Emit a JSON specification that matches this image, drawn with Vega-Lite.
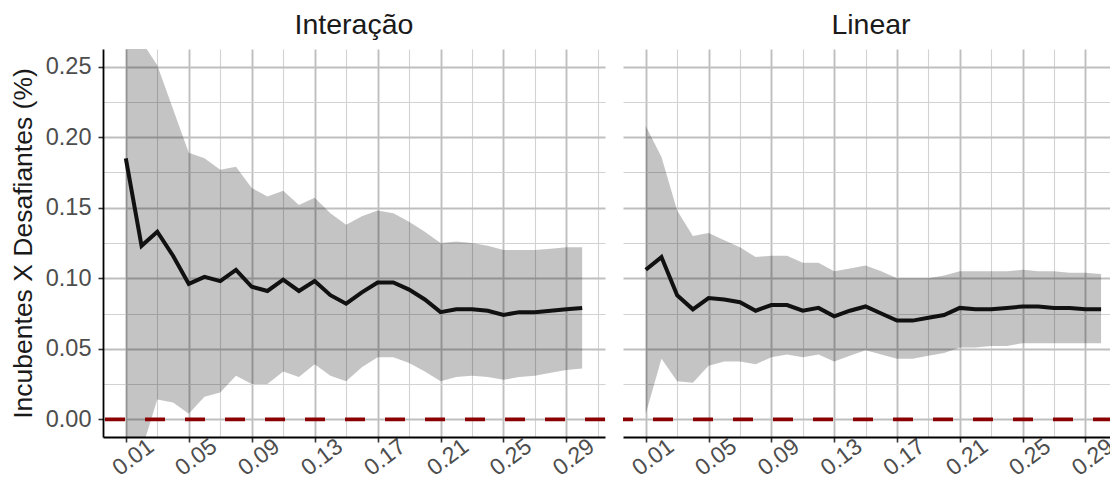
{
  "$schema": "https://vega.github.io/schema/vega-lite/v6.json",
  "background": "white",
  "padding": {"left": 10, "top": 10, "right": 0, "bottom": 0},
  "spacing": 14,
  "config": {
    "font": "Liberation Sans",
    "view": {"stroke": null},
    "title": {"fontSize": 28.5, "fontWeight": "normal", "color": "#1a1a1a", "offset": 10, "anchor": "middle", "frame": "group"}
  },
  "datasets": {
    "est": [
      {"modelo": "Interação", "x": 0.01, "est": 0.185, "lo": -0.06, "hi": 0.33},
      {"modelo": "Interação", "x": 0.02, "est": 0.123, "lo": -0.022, "hi": 0.268},
      {"modelo": "Interação", "x": 0.03, "est": 0.133, "lo": 0.014, "hi": 0.251},
      {"modelo": "Interação", "x": 0.04, "est": 0.116, "lo": 0.012, "hi": 0.22},
      {"modelo": "Interação", "x": 0.05, "est": 0.096, "lo": 0.004, "hi": 0.189},
      {"modelo": "Interação", "x": 0.06, "est": 0.101, "lo": 0.016, "hi": 0.185},
      {"modelo": "Interação", "x": 0.07, "est": 0.098, "lo": 0.019, "hi": 0.177},
      {"modelo": "Interação", "x": 0.08, "est": 0.106, "lo": 0.031, "hi": 0.179},
      {"modelo": "Interação", "x": 0.09, "est": 0.094, "lo": 0.025, "hi": 0.164},
      {"modelo": "Interação", "x": 0.10, "est": 0.091, "lo": 0.025, "hi": 0.158},
      {"modelo": "Interação", "x": 0.11, "est": 0.099, "lo": 0.034, "hi": 0.162},
      {"modelo": "Interação", "x": 0.12, "est": 0.091, "lo": 0.030, "hi": 0.152},
      {"modelo": "Interação", "x": 0.13, "est": 0.098, "lo": 0.039, "hi": 0.157},
      {"modelo": "Interação", "x": 0.14, "est": 0.088, "lo": 0.031, "hi": 0.146},
      {"modelo": "Interação", "x": 0.15, "est": 0.082, "lo": 0.027, "hi": 0.138},
      {"modelo": "Interação", "x": 0.16, "est": 0.090, "lo": 0.037, "hi": 0.144},
      {"modelo": "Interação", "x": 0.17, "est": 0.097, "lo": 0.044, "hi": 0.148},
      {"modelo": "Interação", "x": 0.18, "est": 0.097, "lo": 0.044, "hi": 0.146},
      {"modelo": "Interação", "x": 0.19, "est": 0.092, "lo": 0.040, "hi": 0.140},
      {"modelo": "Interação", "x": 0.20, "est": 0.085, "lo": 0.034, "hi": 0.133},
      {"modelo": "Interação", "x": 0.21, "est": 0.076, "lo": 0.027, "hi": 0.125},
      {"modelo": "Interação", "x": 0.22, "est": 0.078, "lo": 0.030, "hi": 0.126},
      {"modelo": "Interação", "x": 0.23, "est": 0.078, "lo": 0.031, "hi": 0.125},
      {"modelo": "Interação", "x": 0.24, "est": 0.077, "lo": 0.030, "hi": 0.123},
      {"modelo": "Interação", "x": 0.25, "est": 0.074, "lo": 0.028, "hi": 0.120},
      {"modelo": "Interação", "x": 0.26, "est": 0.076, "lo": 0.030, "hi": 0.120},
      {"modelo": "Interação", "x": 0.27, "est": 0.076, "lo": 0.031, "hi": 0.120},
      {"modelo": "Interação", "x": 0.28, "est": 0.077, "lo": 0.033, "hi": 0.121},
      {"modelo": "Interação", "x": 0.29, "est": 0.078, "lo": 0.035, "hi": 0.122},
      {"modelo": "Interação", "x": 0.30, "est": 0.079, "lo": 0.036, "hi": 0.122},
      {"modelo": "Linear", "x": 0.01, "est": 0.106, "lo": 0.004, "hi": 0.208},
      {"modelo": "Linear", "x": 0.02, "est": 0.115, "lo": 0.043, "hi": 0.186},
      {"modelo": "Linear", "x": 0.03, "est": 0.088, "lo": 0.027, "hi": 0.148},
      {"modelo": "Linear", "x": 0.04, "est": 0.078, "lo": 0.026, "hi": 0.130},
      {"modelo": "Linear", "x": 0.05, "est": 0.086, "lo": 0.038, "hi": 0.132},
      {"modelo": "Linear", "x": 0.06, "est": 0.085, "lo": 0.041, "hi": 0.127},
      {"modelo": "Linear", "x": 0.07, "est": 0.083, "lo": 0.041, "hi": 0.122},
      {"modelo": "Linear", "x": 0.08, "est": 0.077, "lo": 0.039, "hi": 0.115},
      {"modelo": "Linear", "x": 0.09, "est": 0.081, "lo": 0.044, "hi": 0.116},
      {"modelo": "Linear", "x": 0.10, "est": 0.081, "lo": 0.046, "hi": 0.116},
      {"modelo": "Linear", "x": 0.11, "est": 0.077, "lo": 0.044, "hi": 0.111},
      {"modelo": "Linear", "x": 0.12, "est": 0.079, "lo": 0.046, "hi": 0.111},
      {"modelo": "Linear", "x": 0.13, "est": 0.073, "lo": 0.041, "hi": 0.105},
      {"modelo": "Linear", "x": 0.14, "est": 0.077, "lo": 0.045, "hi": 0.107},
      {"modelo": "Linear", "x": 0.15, "est": 0.080, "lo": 0.049, "hi": 0.109},
      {"modelo": "Linear", "x": 0.16, "est": 0.075, "lo": 0.046, "hi": 0.105},
      {"modelo": "Linear", "x": 0.17, "est": 0.070, "lo": 0.043, "hi": 0.100},
      {"modelo": "Linear", "x": 0.18, "est": 0.070, "lo": 0.043, "hi": 0.100},
      {"modelo": "Linear", "x": 0.19, "est": 0.072, "lo": 0.045, "hi": 0.100},
      {"modelo": "Linear", "x": 0.20, "est": 0.074, "lo": 0.047, "hi": 0.102},
      {"modelo": "Linear", "x": 0.21, "est": 0.079, "lo": 0.051, "hi": 0.105},
      {"modelo": "Linear", "x": 0.22, "est": 0.078, "lo": 0.051, "hi": 0.105},
      {"modelo": "Linear", "x": 0.23, "est": 0.078, "lo": 0.052, "hi": 0.105},
      {"modelo": "Linear", "x": 0.24, "est": 0.079, "lo": 0.052, "hi": 0.105},
      {"modelo": "Linear", "x": 0.25, "est": 0.080, "lo": 0.054, "hi": 0.106},
      {"modelo": "Linear", "x": 0.26, "est": 0.080, "lo": 0.054, "hi": 0.105},
      {"modelo": "Linear", "x": 0.27, "est": 0.079, "lo": 0.054, "hi": 0.105},
      {"modelo": "Linear", "x": 0.28, "est": 0.079, "lo": 0.054, "hi": 0.104},
      {"modelo": "Linear", "x": 0.29, "est": 0.078, "lo": 0.054, "hi": 0.104},
      {"modelo": "Linear", "x": 0.30, "est": 0.078, "lo": 0.054, "hi": 0.103}
    ]
  },
  "hconcat": [
    {
      "width": 502,
      "height": 388,
      "title": {"text": "Interação"},
      "resolve": {"axis": {"x": "independent", "y": "independent"}},
      "layer": [
        {
          "data": {"name": "est"},
          "transform": [{"filter": "datum.modelo === 'Interação'"}],
          "mark": {"type": "area", "clip": true, "color": "#000000", "opacity": 0.23},
          "encoding": {
            "x": {
              "field": "x", "type": "quantitative",
              "scale": {"domain": [-0.0045, 0.3145], "nice": false, "zero": false},
              "axis": {"orient": "bottom", "title": null, "values": [0.01, 0.05, 0.09, 0.13, 0.17, 0.21, 0.25, 0.29], "format": ".2f",
                "grid": true, "gridColor": "#bfbfbf", "gridWidth": 1.9,
                "domainColor": "#000000", "domainWidth": 1.8, "tickColor": "#333333", "tickSize": 5, "tickWidth": 1.6,
                "labelAngle": -37, "labelAlign": "center", "labelBaseline": "middle", "labelPadding": 15, "labelOffset": 7,
                "labelFontSize": 23, "labelColor": "#4d4d4d", "labelOverlap": false, "labelBound": false, "labelFlush": false}
            },
            "y": {
              "field": "lo", "type": "quantitative",
              "scale": {"domain": [-0.0125, 0.2625], "nice": false, "zero": false},
              "axis": {"orient": "left", "title": "Incubentes X Desafiantes (%)", "titleFontSize": 26.5, "titleFontWeight": "normal", "titleColor": "#1a1a1a", "titlePadding": 8,
                "values": [0, 0.05, 0.1, 0.15, 0.2, 0.25], "format": ".2f",
                "grid": true, "gridColor": "#bfbfbf", "gridWidth": 1.9,
                "domainColor": "#000000", "domainWidth": 1.8, "tickColor": "#333333", "tickSize": 5, "tickWidth": 1.6,
                "labelPadding": 7, "labelFontSize": 23.5, "labelColor": "#4d4d4d", "labelOverlap": false, "labelFlush": false}
            },
            "y2": {"field": "hi"}
          }
        },
        {
          "data": {"name": "est"},
          "transform": [{"filter": "datum.modelo === 'Interação'"}],
          "mark": {"type": "line", "clip": true, "color": "#111111", "strokeWidth": 4},
          "encoding": {
            "x": {"field": "x", "type": "quantitative",
              "axis": {"orient": "top", "title": null, "values": [0.03, 0.07, 0.11, 0.15, 0.19, 0.23, 0.27, 0.31],
                "grid": true, "gridColor": "#d2d2d2", "gridWidth": 1.1, "labels": false, "ticks": false, "domain": false}},
            "y": {"field": "est", "type": "quantitative",
              "axis": {"orient": "right", "title": null, "values": [0.025, 0.075, 0.125, 0.175, 0.225],
                "grid": true, "gridColor": "#d2d2d2", "gridWidth": 1.1, "labels": false, "ticks": false, "domain": false}}
          }
        },
        {
          "data": {"values": [{}]},
          "mark": {"type": "rule", "color": "#8b0000", "strokeWidth": 3.8, "strokeDash": [20, 20]},
          "encoding": {"y": {"datum": 0, "type": "quantitative", "axis": null}}
        }
      ]
    },
    {
      "width": 490,
      "height": 388,
      "title": {"text": "Linear", "dx": 3},
      "resolve": {"axis": {"x": "independent", "y": "independent"}},
      "layer": [
        {
          "data": {"name": "est"},
          "transform": [{"filter": "datum.modelo === 'Linear'"}],
          "mark": {"type": "area", "clip": true, "color": "#000000", "opacity": 0.23},
          "encoding": {
            "x": {
              "field": "x", "type": "quantitative",
              "scale": {"domain": [-0.0045, 0.3076], "nice": false, "zero": false},
              "axis": {"orient": "bottom", "title": null, "values": [0.01, 0.05, 0.09, 0.13, 0.17, 0.21, 0.25, 0.29], "format": ".2f",
                "grid": true, "gridColor": "#bfbfbf", "gridWidth": 1.9,
                "domainColor": "#000000", "domainWidth": 1.8, "tickColor": "#333333", "tickSize": 5, "tickWidth": 1.6,
                "labelAngle": -37, "labelAlign": "center", "labelBaseline": "middle", "labelPadding": 15, "labelOffset": 7,
                "labelFontSize": 23, "labelColor": "#4d4d4d", "labelOverlap": false, "labelBound": false, "labelFlush": false}
            },
            "y": {
              "field": "lo", "type": "quantitative",
              "scale": {"domain": [-0.0125, 0.2625], "nice": false, "zero": false},
              "axis": {"orient": "left", "title": null, "values": [0, 0.05, 0.1, 0.15, 0.2, 0.25],
                "grid": true, "gridColor": "#bfbfbf", "gridWidth": 1.9, "labels": false, "ticks": false, "domain": false}
            },
            "y2": {"field": "hi"}
          }
        },
        {
          "data": {"name": "est"},
          "transform": [{"filter": "datum.modelo === 'Linear'"}],
          "mark": {"type": "line", "clip": true, "color": "#111111", "strokeWidth": 4},
          "encoding": {
            "x": {"field": "x", "type": "quantitative",
              "axis": {"orient": "top", "title": null, "values": [0.03, 0.07, 0.11, 0.15, 0.19, 0.23, 0.27],
                "grid": true, "gridColor": "#d2d2d2", "gridWidth": 1.1, "labels": false, "ticks": false, "domain": false}},
            "y": {"field": "est", "type": "quantitative",
              "axis": {"orient": "right", "title": null, "values": [0.025, 0.075, 0.125, 0.175, 0.225],
                "grid": true, "gridColor": "#d2d2d2", "gridWidth": 1.1, "labels": false, "ticks": false, "domain": false}}
          }
        },
        {
          "data": {"values": [{}]},
          "mark": {"type": "rule", "color": "#8b0000", "strokeWidth": 3.8, "strokeDash": [20, 20]},
          "encoding": {"y": {"datum": 0, "type": "quantitative", "axis": null}}
        }
      ]
    }
  ]
}
